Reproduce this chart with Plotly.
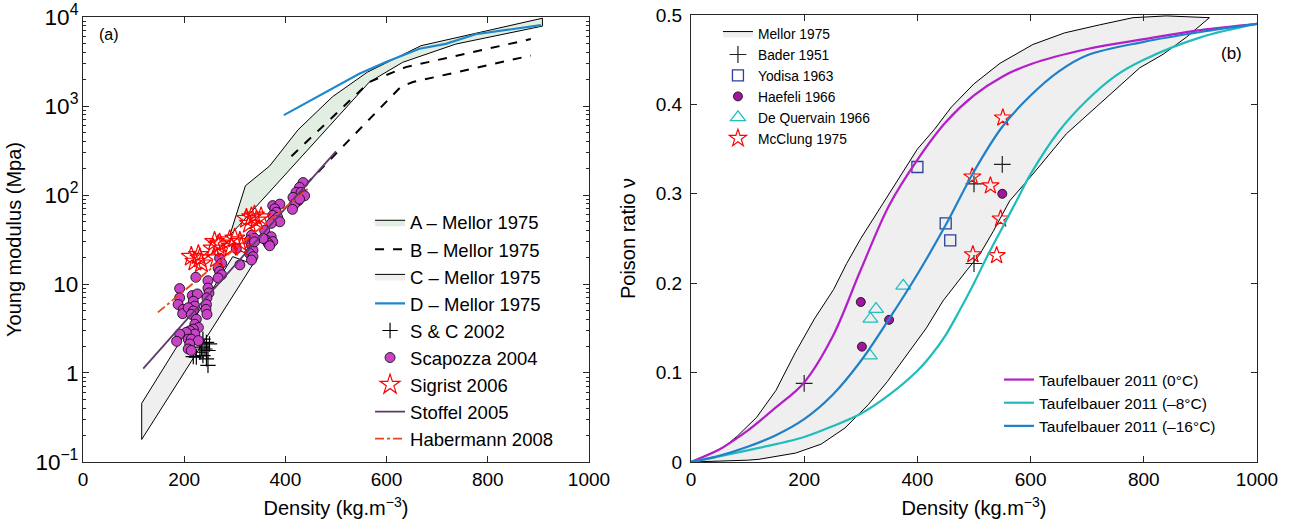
import plotly.graph_objects as go

# ---------------- Panel (a) data ----------------
A_x = [290, 321, 369, 425, 493, 562, 668, 908, 908, 737, 632, 566, 428, 290]
A_y = [35, 127, 212, 540, 1270, 2400, 4760, 9700, 7900, 4970, 3100, 1860, 255, 35]

B_x = [412, 566, 638, 885, None, 440, 628, 652, 885]
B_y = [273, 1862, 2735, 5650, None, 130, 1640, 1860, 3690]

C_x = [116, 296, 336, 116, 116]
C_y = [0.456, 20.3, 16.7, 0.179, 0.456]

D_x = [397, 546, 600, 665, 717, 776, 905]
D_y = [790, 2300, 3150, 4400, 5000, 6400, 8100]

SC_x = [237, 244, 250, 234, 241, 247, 231, 237, 218, 224, 244, 247]
SC_y = [2.40, 2.21, 2.12, 1.95, 1.86, 1.79, 1.71, 1.57, 1.53, 1.51, 1.44, 1.22]

SCAP_x = [435, 428, 421, 431, 438, 415, 425, 418, 414, 428,
          375, 389, 379, 382, 375, 385, 379, 389, 372,
          359, 372, 362, 375, 366, 369, 356,
          333, 329, 339, 333, 336, 329, 336, 333, 339,
          310, 303,
          270, 274, 267, 270, 274, 267, 223,
          247, 247, 249, 245, 244, 243, 245,
          191, 216, 226, 218, 221, 191, 188, 198, 197, 208, 218, 214,
          224, 221, 228, 218, 211, 221, 204, 191, 208, 214, 228, 211, 185, 208, 214]
SCAP_y = [138, 122, 107, 107, 98, 94, 86, 79, 69, 90,
          76, 79, 70, 64, 59, 56, 52, 50, 48,
          40, 34, 31, 30, 28.6, 26.9, 32.5,
          35.3, 31, 32.5, 27.4, 24, 22.1, 20.3, 18.6, 29.8,
          16.4, 25.1,
          19.5, 17.1, 15.1, 13.8, 12.7, 11.7, 11.9,
          10.9, 9.0, 7.94, 6.99, 5.89, 5.19, 4.56,
          8.88, 7.42, 7.74, 6.41, 5.65, 6.99, 5.89, 5.19, 4.64, 5.41, 4.97, 4.56,
          4.02, 3.53, 3.24, 3.11, 2.98, 2.74, 2.86, 2.74, 2.40, 2.40, 2.31, 2.12, 2.27, 1.86, 1.79]

SIG_x = [214, 228, 221, 234, 231, 260, 267, 257, 264, 270,
         290, 300, 310, 293, 313, 323, 333, 343, 352, 329, 339]
SIG_y = [20.3, 21.2, 17.9, 17.1, 19.5, 29.8, 27.4, 25.1, 19.5, 28.6,
         31.1, 32.5, 29.8, 26.2, 26.2, 54.1, 56.5, 51.9, 56.5, 47.6, 58.9]

STOF_x = [119, 500]
STOF_y = [1.12, 310]

HAB_x = [148, 444]
HAB_y = [4.8, 117]

# ---------------- Panel (b) data ----------------
MEL_up_x = [0, 57, 82, 116, 150, 184, 218, 252, 275, 300, 330, 360, 400, 430, 460, 500, 546, 604, 660, 722, 781, 840, 916]
MEL_up_y = [0, 0.016, 0.029, 0.05, 0.08, 0.122, 0.16, 0.193, 0.222, 0.25, 0.28, 0.31, 0.35, 0.372, 0.397, 0.423, 0.446, 0.467, 0.48, 0.489, 0.497, 0.499, 0.497]
MEL_lo_x = [916, 875, 834, 793, 740, 693, 663, 604, 563, 534, 510, 488, 445, 416, 381, 347, 313, 272, 230, 185, 120, 100, 0]
MEL_lo_y = [0.497, 0.475, 0.456, 0.441, 0.411, 0.385, 0.367, 0.322, 0.292, 0.258, 0.232, 0.215, 0.18, 0.15, 0.12, 0.09, 0.064, 0.038, 0.02, 0.01, 0.003, 0.002, 0]

BAD_x = [200, 500, 500, 550]
BAD_y = [0.088, 0.311, 0.222, 0.333]

YOD_x = [400, 450, 458]
YOD_y = [0.330, 0.267, 0.248]

HAE_x = [550, 300, 350, 302]
HAE_y = [0.300, 0.179, 0.159, 0.129]

DQ_x = [375, 327, 317, 316]
DQ_y = [0.197, 0.171, 0.160, 0.119]

MCC_x = [551, 497, 529, 547, 498, 540]
MCC_y = [0.385, 0.319, 0.309, 0.272, 0.232, 0.231]

T0_x = [0, 50, 75, 100, 150, 200, 250, 300, 350, 400, 450, 500, 550, 600, 700, 800, 900, 1000]
T0_y = [0, 0.014, 0.024, 0.035, 0.061, 0.089, 0.14, 0.215, 0.287, 0.338, 0.38, 0.41, 0.431, 0.445, 0.462, 0.473, 0.483, 0.49]

T8_x = [0, 100, 200, 250, 300, 350, 400, 425, 450, 475, 500, 525, 550, 575, 600, 650, 700, 750, 800, 900, 1000]
T8_y = [0, 0.013, 0.028, 0.04, 0.054, 0.075, 0.102, 0.12, 0.142, 0.17, 0.2, 0.232, 0.262, 0.292, 0.322, 0.37, 0.405, 0.432, 0.45, 0.475, 0.49]

T16_x = [0, 50, 100, 150, 200, 250, 300, 350, 400, 450, 500, 550, 600, 650, 700, 800, 900, 1000]
T16_y = [0, 0.007, 0.017, 0.03, 0.048, 0.075, 0.113, 0.16, 0.21, 0.265, 0.325, 0.375, 0.41, 0.437, 0.455, 0.47, 0.481, 0.49]

FONT = "Liberation Sans, Arial, Helvetica, sans-serif"

fig = go.Figure()

# ---- panel (a) traces ----
fig.add_trace(go.Scatter(x=A_x, y=A_y, mode="lines", fill="toself", fillcolor="#e3eee3",
                         line=dict(color="black", width=1), name="A \u2013 Mellor 1975",
                         xaxis="x", yaxis="y", legend="legend"))
fig.add_trace(go.Scatter(x=B_x, y=B_y, mode="lines", line=dict(color="black", width=2, dash="dash"),
                         connectgaps=False, name="B \u2013 Mellor 1975", xaxis="x", yaxis="y", legend="legend"))
fig.add_trace(go.Scatter(x=C_x, y=C_y, mode="lines", fill="toself", fillcolor="#efefef",
                         line=dict(color="black", width=1), name="C \u2013 Mellor 1975",
                         xaxis="x", yaxis="y", legend="legend"))
fig.add_trace(go.Scatter(x=D_x, y=D_y, mode="lines", line=dict(color="#1f88cc", width=2.2),
                         name="D \u2013 Mellor 1975", xaxis="x", yaxis="y", legend="legend"))
fig.add_trace(go.Scatter(x=SC_x, y=SC_y, mode="markers",
                         marker=dict(symbol="cross-thin", size=11, color="black", line=dict(width=1.2, color="black")),
                         name="S & C 2002", xaxis="x", yaxis="y", legend="legend"))
fig.add_trace(go.Scatter(x=SCAP_x, y=SCAP_y, mode="markers",
                         marker=dict(symbol="circle", size=10, color="#c843c8", line=dict(width=0.8, color="black")),
                         name="Scapozza 2004", xaxis="x", yaxis="y", legend="legend"))
fig.add_trace(go.Scatter(x=SIG_x, y=SIG_y, mode="markers",
                         marker=dict(symbol="star-open", size=15, color="#ff0000", line=dict(width=1.2, color="#ff0000")),
                         name="Sigrist 2006", xaxis="x", yaxis="y", legend="legend"))
fig.add_trace(go.Scatter(x=STOF_x, y=STOF_y, mode="lines", line=dict(color="#5d3a6a", width=1.8),
                         name="Stoffel 2005", xaxis="x", yaxis="y", legend="legend"))
fig.add_trace(go.Scatter(x=HAB_x, y=HAB_y, mode="lines", line=dict(color="#e8451c", width=1.8, dash="dashdot"),
                         name="Habermann 2008", xaxis="x", yaxis="y", legend="legend"))

# ---- panel (b) traces ----
fig.add_trace(go.Scatter(x=MEL_up_x + MEL_lo_x, y=MEL_up_y + MEL_lo_y, mode="lines", fill="toself",
                         fillcolor="#efefef", line=dict(color="black", width=1), name="Mellor 1975",
                         xaxis="x2", yaxis="y2", legend="legend2"))
fig.add_trace(go.Scatter(x=BAD_x, y=BAD_y, mode="markers",
                         marker=dict(symbol="cross-thin", size=12, color="#222222", line=dict(width=1.2, color="#222222")),
                         name="Bader 1951", xaxis="x2", yaxis="y2", legend="legend2"))
fig.add_trace(go.Scatter(x=YOD_x, y=YOD_y, mode="markers",
                         marker=dict(symbol="square-open", size=11, color="#2b3f9c", line=dict(width=1.3)),
                         name="Yodisa 1963", xaxis="x2", yaxis="y2", legend="legend2"))
fig.add_trace(go.Scatter(x=HAE_x, y=HAE_y, mode="markers",
                         marker=dict(symbol="circle", size=9, color="#a3159f", line=dict(width=0.8, color="black")),
                         name="Haefeli 1966", xaxis="x2", yaxis="y2", legend="legend2"))
fig.add_trace(go.Scatter(x=DQ_x, y=DQ_y, mode="markers",
                         marker=dict(symbol="triangle-up-open", size=13, color="#22c0c0", line=dict(width=1.3)),
                         name="De Quervain 1966", xaxis="x2", yaxis="y2", legend="legend2"))
fig.add_trace(go.Scatter(x=MCC_x, y=MCC_y, mode="markers",
                         marker=dict(symbol="star-open", size=13, color="#ff0000", line=dict(width=1.2)),
                         name="McClung 1975", xaxis="x2", yaxis="y2", legend="legend2"))
fig.add_trace(go.Scatter(x=T0_x, y=T0_y, mode="lines", line=dict(color="#b31ec8", width=2.2, shape="spline"),
                         name="Taufelbauer 2011 (0\u00b0C)", xaxis="x2", yaxis="y2", legend="legend3"))
fig.add_trace(go.Scatter(x=T8_x, y=T8_y, mode="lines", line=dict(color="#1fbcbc", width=2.2, shape="spline"),
                         name="Taufelbauer 2011 (\u20138\u00b0C)", xaxis="x2", yaxis="y2", legend="legend3"))
fig.add_trace(go.Scatter(x=T16_x, y=T16_y, mode="lines", line=dict(color="#1f80c8", width=2.2, shape="spline"),
                         name="Taufelbauer 2011 (\u201316\u00b0C)", xaxis="x2", yaxis="y2", legend="legend3"))

axis_common = dict(showline=True, linecolor="#262626", linewidth=1, mirror="allticks",
                   ticks="inside", ticklen=6, tickcolor="#262626", showgrid=False, zeroline=False,
                   automargin=False, ticklabeloverflow="allow")
tickfont19 = dict(size=19, color="black", family=FONT)
tickfont18 = dict(size=18, color="black", family=FONT)

fig.update_layout(
    width=1303, height=532, autosize=False,
    margin=dict(l=0, r=0, t=0, b=0, autoexpand=False),
    paper_bgcolor="white", plot_bgcolor="white",
    font=dict(family=FONT, color="black"),
    xaxis=dict(domain=[0.0637, 0.4520], range=[0, 1000], dtick=200, anchor="y", tickfont=tickfont19,
               title=dict(text="Density (kg.m<sup>\u22123</sup>)", font=dict(size=20), standoff=12), **axis_common),
    yaxis=dict(domain=[0.1316, 0.968], type="log", range=[-1, 4], dtick=1, exponentformat="power",
               anchor="x", tickfont=tickfont18,
               title=dict(text="Young modulus (Mpa)", font=dict(size=20), standoff=8),
               minor=dict(ticks="inside", ticklen=3, tickcolor="#262626", dtick="D1"), **axis_common),
    xaxis2=dict(domain=[0.5303, 0.9647], range=[0, 1000], dtick=200, anchor="y2", tickfont=tickfont19,
                title=dict(text="Density (kg.m<sup>\u22123</sup>)", font=dict(size=20), standoff=12), **axis_common),
    yaxis2=dict(domain=[0.1316, 0.9718], range=[0, 0.5], dtick=0.1, anchor="x2", ticklabelstandoff=4,
                tickfont=tickfont19,
                title=dict(text="Poison ratio \u03bd", font=dict(size=20), standoff=14), **axis_common),
    legend=dict(x=0.284, y=0.617, xanchor="left", yanchor="top", bgcolor="rgba(0,0,0,0)",
                font=dict(size=18.5, family=FONT), tracegroupgap=0),
    legend2=dict(x=0.551, y=0.966, xanchor="left", yanchor="top", bgcolor="rgba(0,0,0,0)",
                 font=dict(size=13.8, family=FONT)),
    legend3=dict(x=0.7667, y=0.3177, xanchor="left", yanchor="top", bgcolor="rgba(0,0,0,0)",
                 font=dict(size=15.5, family=FONT)),
    annotations=[
        dict(text="(a)", xref="x domain", yref="y domain", x=0.028, y=0.96, xanchor="left",
             yanchor="middle", showarrow=False, font=dict(size=16, family=FONT)),
        dict(text="(b)", xref="x2 domain", yref="y2 domain", x=0.955, y=0.913, xanchor="center",
             yanchor="middle", showarrow=False, font=dict(size=17, family=FONT)),
    ],
)

fig.write_html("out.html")
